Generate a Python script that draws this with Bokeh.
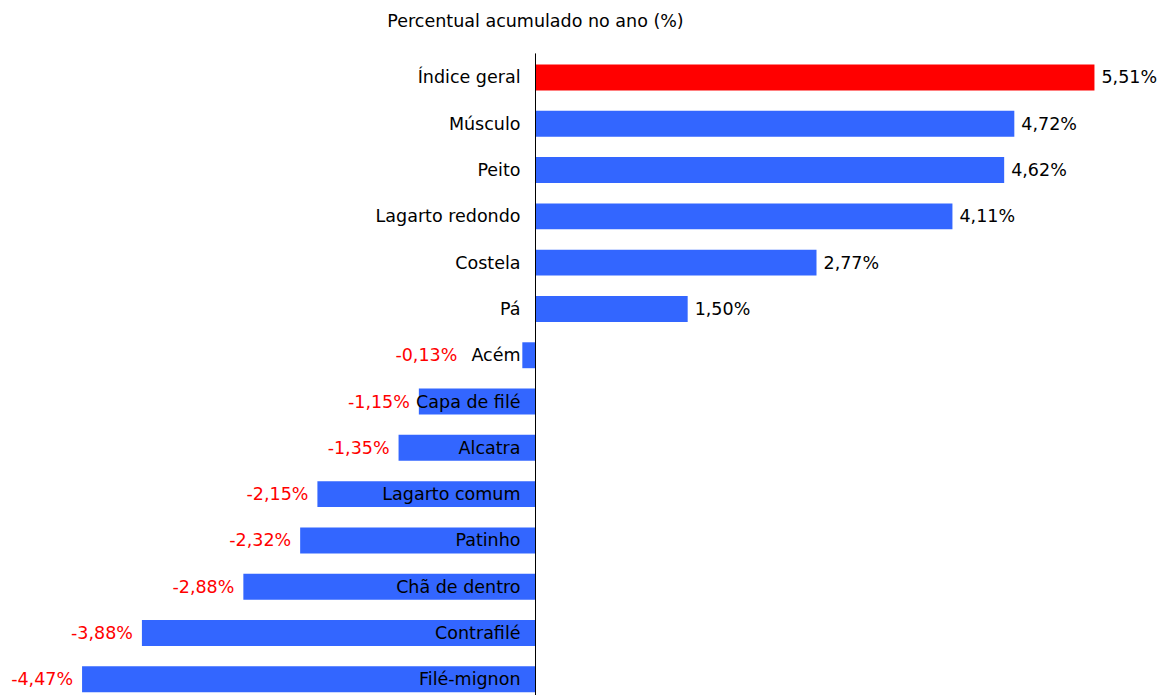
from bokeh.plotting import figure
from bokeh.models import Range1d, ColumnDataSource
from bokeh.core.properties import value
from bokeh.embed import file_html
from bokeh.resources import INLINE

title_text = "Percentual acumulado no ano (%)"
categories = ["Índice geral", "Músculo", "Peito", "Lagarto redondo", "Costela", "Pá",
              "Acém", "Capa de filé", "Alcatra", "Lagarto comum", "Patinho",
              "Chã de dentro", "Contrafilé", "Filé-mignon"]
values = [5.51, 4.72, 4.62, 4.11, 2.77, 1.50, -0.13, -1.15, -1.35, -2.15, -2.32, -2.88, -3.88, -4.47]

FONT = "DejaVu Sans"
FS = "17.5px"
ypos = [-i for i in range(len(categories))]
colors = ["#FF0000"] + ["#3366FF"] * (len(categories) - 1)
labels = [("%.2f" % v).replace(".", ",") + "%" for v in values]
lab_color = ["#000000" if v >= 0 else "#FF0000" for v in values]
lab_align = ["left" if v >= 0 else "right" for v in values]
# value labels of negative bars move left of the category label when the bar is short
overrides = {"Acém": -65}
lab_off = [7 if v >= 0 else overrides.get(c, -9) for c, v in zip(categories, values)]

src = ColumnDataSource(dict(y=ypos, v=values, cat=categories, color=colors,
                            lab=labels, labc=lab_color, laba=lab_align, labo=lab_off,
                            zero=[0] * len(values)))

p = figure(width=1160, height=695, output_backend="svg", toolbar_location=None,
           x_range=Range1d(-5.274, 6.161), y_range=Range1d(-13.35, 1.663),
           min_border=0, min_border_left=0, min_border_right=0,
           min_border_top=0, min_border_bottom=0)
p.axis.visible = False
p.grid.visible = False
p.outline_line_color = None
p.background_fill_color = "white"

p.hbar(y="y", left=0, right="v", height=0.56, color="color", line_color=None, source=src)
p.segment(x0=[0], y0=[0.52], x1=[0], y1=[-13.5], line_color="black", line_width=1)

p.text(x="zero", y="y", text="cat", x_offset=-15, text_align="right", text_baseline="middle",
       text_font=value(FONT), text_font_size=FS, text_color="#000000", source=src)
p.text(x="v", y="y", text="lab", x_offset="labo", text_align="laba", text_baseline="middle",
       text_font=value(FONT), text_font_size=FS, text_color="labc", source=src)
p.text(x=[0], y=[1.21], text=[title_text], text_align="center", text_baseline="middle",
       text_font=value(FONT), text_font_size=FS, text_color="#000000")

open("out.html", "w").write(file_html(p, INLINE))
